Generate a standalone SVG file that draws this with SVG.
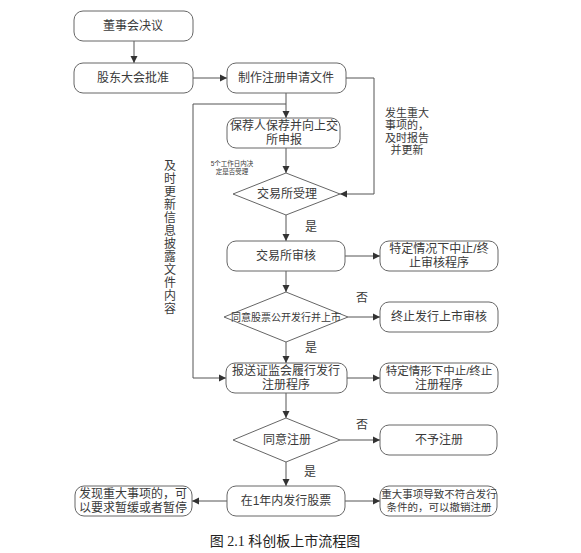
<svg xmlns="http://www.w3.org/2000/svg" width="581" height="553" viewBox="0 0 581 553">
<style>
.b{fill:#fff;stroke:#666;stroke-width:1}
.t{font-family:"Liberation Sans","Noto Sans CJK SC",sans-serif;font-size:12px;fill:#3a3a3a;text-anchor:middle;dominant-baseline:central}
.c{fill:none;stroke:#555;stroke-width:1}
.s{font-size:10.5px}
.m{font-size:11px}
</style>
<defs>
<marker id="a" markerUnits="userSpaceOnUse" markerWidth="8" markerHeight="8" refX="7" refY="4" orient="auto">
<path d="M0,0.5 L7,4 L0,7.5 z" fill="#333"/>
</marker>
</defs>
<rect width="581" height="553" fill="#fff"/>
<g id="connectors">
<path class="c" d="M134,41 V63" marker-end="url(#a)"/>
<path class="c" d="M193,78 H227" marker-end="url(#a)"/>
<path class="c" d="M286,93 V118" marker-end="url(#a)"/>
<path class="c" d="M286,104 H193 V378 H226" marker-end="url(#a)"/>
<path class="c" d="M346,78 H374 V194 H340" marker-end="url(#a)"/>
<path class="c" d="M286,148 V173" marker-end="url(#a)"/>
<path class="c" d="M286,215 V241" marker-end="url(#a)"/>
<path class="c" d="M345,256 H380" marker-end="url(#a)"/>
<path class="c" d="M286,271 V292" marker-end="url(#a)"/>
<path class="c" d="M348,317 H380" marker-end="url(#a)"/>
<path class="c" d="M286,342 V363" marker-end="url(#a)"/>
<path class="c" d="M347,378 H380" marker-end="url(#a)"/>
<path class="c" d="M286,393 V418" marker-end="url(#a)"/>
<path class="c" d="M340,440 H380" marker-end="url(#a)"/>
<path class="c" d="M286,462 V486" marker-end="url(#a)"/>
<path class="c" d="M227,501 H192" marker-end="url(#a)"/>
<path class="c" d="M345,501 H380" marker-end="url(#a)"/>
<text class="t m" x="407" y="113">发生重大</text>
<text class="t m" x="407" y="125">事项的，</text>
<text class="t m" x="407" y="138">及时报告</text>
<text class="t m" x="407" y="150">并更新</text>
<text class="t" x="232" y="163" style="font-size:6.5px">5个工作日内决</text>
<text class="t" x="232" y="171" style="font-size:6.5px">定是否受理</text>
<text class="t" x="311" y="227">是</text>
<text class="t" x="362" y="298">否</text>
<text class="t" x="311" y="348">是</text>
<text class="t" x="362" y="425">否</text>
<text class="t" x="310" y="472">是</text>
<text class="t" x="170" y="166">及</text>
<text class="t" x="170" y="179">时</text>
<text class="t" x="170" y="192">更</text>
<text class="t" x="170" y="205">新</text>
<text class="t" x="170" y="218">信</text>
<text class="t" x="170" y="231">息</text>
<text class="t" x="170" y="244">披</text>
<text class="t" x="170" y="257">露</text>
<text class="t" x="170" y="270">文</text>
<text class="t" x="170" y="283">件</text>
<text class="t" x="170" y="296">内</text>
<text class="t" x="170" y="309">容</text>
</g>
<g id="n1"><rect class="b" x="74" y="11" width="119" height="30" rx="9"/><text class="t" x="133" y="26">董事会决议</text></g>
<g id="n2"><rect class="b" x="74" y="63" width="119" height="30" rx="9"/><text class="t" x="133" y="78">股东大会批准</text></g>
<g id="n3"><rect class="b" x="227" y="63" width="119" height="30" rx="9"/><text class="t" x="286" y="78">制作注册申请文件</text></g>
<g id="n4"><rect class="b" x="227" y="118" width="113" height="30" rx="9"/><text class="t" x="284" y="126">保荐人保荐并向上交</text><text class="t" x="284" y="140">所申报</text></g>
<g id="n5"><polygon class="b" points="233,194 286,173 340,194 286,215"/><text class="t" x="287" y="194">交易所受理</text></g>
<g id="n6"><rect class="b" x="227" y="241" width="118" height="30" rx="9"/><text class="t" x="286" y="256">交易所审核</text></g>
<g id="n7"><rect class="b" x="380" y="241" width="118" height="30" rx="9"/><text class="t" x="439" y="249">特定情况下中止/终</text><text class="t" x="439" y="263">止审核程序</text></g>
<g id="n8"><polygon class="b" points="224,317 286,292 348,317 286,342"/><text class="t" x="286" y="317" style="font-size:10px">同意股票公开发行并上市</text></g>
<g id="n9"><rect class="b" x="380" y="302" width="118" height="30" rx="9"/><text class="t" x="439" y="317">终止发行上市审核</text></g>
<g id="n10"><rect class="b" x="226" y="363" width="121" height="30" rx="9"/><text class="t" x="286" y="371">报送证监会履行发行</text><text class="t" x="286" y="385">注册程序</text></g>
<g id="n11"><rect class="b" x="380" y="363" width="118" height="30" rx="9"/><text class="t" x="439" y="371" style="font-size:11.5px">特定情形下中止/终止</text><text class="t" x="439" y="385">注册程序</text></g>
<g id="n12"><polygon class="b" points="233,440 286,418 340,440 286,462"/><text class="t" x="287" y="440">同意注册</text></g>
<g id="n13"><rect class="b" x="380" y="425" width="117" height="30" rx="9"/><text class="t" x="439" y="440">不予注册</text></g>
<g id="n14"><rect class="b" x="227" y="486" width="118" height="30" rx="9"/><text class="t" x="286" y="501">在1年内发行股票</text></g>
<g id="n15"><rect class="b" x="75" y="486" width="117" height="30" rx="9"/><text class="t" x="133" y="494">发现重大事项的，可</text><text class="t" x="133" y="508">以要求暂缓或者暂停</text></g>
<g id="n16"><rect class="b" x="380" y="486" width="117" height="30" rx="9"/><text class="t s" x="439" y="494">重大事项导致不符合发行</text><text class="t s" x="439" y="507">条件的，可以撤销注册</text></g>
<text x="285" y="546" style="font-family:'Liberation Serif','Noto Sans CJK SC',serif;font-size:14px;fill:#222;text-anchor:middle">图 2.1  科创板上市流程图</text>
</svg>
